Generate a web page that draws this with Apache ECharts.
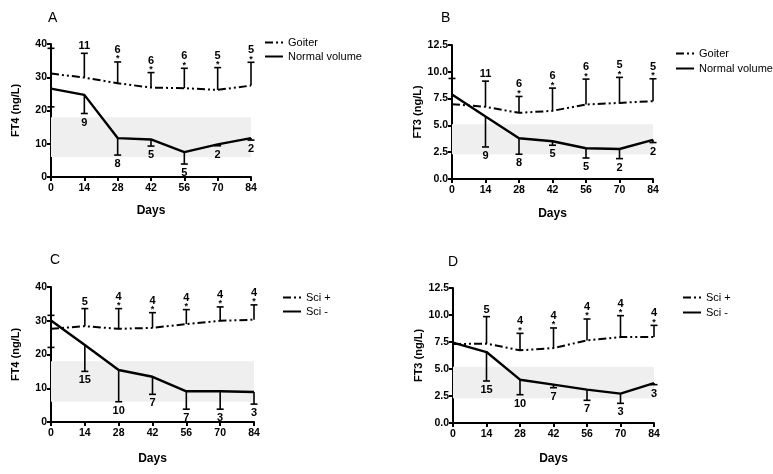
<!DOCTYPE html>
<html>
<head>
<meta charset="utf-8">
<script src="https://cdn.jsdelivr.net/npm/echarts@6/dist/echarts.min.js"></script>
<style>html,body{margin:0;padding:0;background:#fff}#c{width:773px;height:474px}</style>
</head>
<body>
<div id="c"></div>
<script>
// ---- data ----
const days = [0, 14, 28, 42, 56, 70, 84];
const xTicks = [0, 14, 28, 42, 56, 70, 84];

// Panel A: FT4, goiter vs normal volume
const goiterFT4 = [31.1, 29.9, 28.2, 26.9, 26.7, 26.2, 27.5];
const goiterFT4Err = [38.7, 37.2, 34.6, 31.4, 32.7, 32.9, 34.5];
const normalFT4 = [26.6, 24.7, 11.7, 11.3, 7.5, 9.8, 11.7];
const normalFT4Err = [21.1, 19.1, 6.6, 9.3, 3.9, 9.4, 11.1];

// Panel B: FT3, goiter vs normal volume
const goiterFT3 = [6.98, 6.73, 6.17, 6.36, 6.95, 7.1, 7.26];
const goiterFT3Err = [9.38, 9.13, 7.7, 8.48, 9.32, 9.48, 9.35];
const normalFT3 = [7.89, 5.83, 3.8, 3.52, 2.87, 2.8, 3.65];
const normalFT3Err = [null, 2.99, 2.31, 3.15, 1.96, 1.9, 3.4];

const goiterN = ['', '11', '6', '6', '6', '5', '5'];
const goiterStar = [false, false, true, true, true, true, true];
const normalN = ['', '9', '8', '5', '5', '2', '2'];

// Panel C: FT4, Sci + vs Sci -
const sciPosFT4 = [27.6, 28.4, 27.6, 27.9, 29.0, 30.0, 30.3];
const sciPosFT4Err = [31.6, 33.6, 33.6, 32.4, 33.3, 34.1, 34.7];
const sciNegFT4 = [30.1, 22.8, 15.4, 13.4, 9.1, 9.1, 8.9];
const sciNegFT4Err = [22.1, 15.0, 6.0, 8.2, 3.8, 3.8, 5.3];

// Panel D: FT3, Sci + vs Sci -
const sciPosFT3 = [7.31, 7.35, 6.73, 6.94, 7.65, 7.96, 7.96];
const sciPosFT3Err = [null, 9.85, 8.3, 8.8, 9.63, 9.94, 9.04];
const sciNegFT3 = [7.44, 6.57, 4.01, 3.55, 3.09, 2.72, 3.7];
const sciNegFT3Err = [null, 3.89, 2.62, 3.27, 2.1, 1.82, 3.55];

const sciPosN = ['', '5', '4', '4', '4', '4', '4'];
const sciPosStar = [false, false, true, true, true, true, true];
const sciNegN = ['', '15', '10', '7', '7', '3', '3'];
const noStar = [false, false, false, false, false, false, false];

// reference ranges
const ft4Range = [6, 18];
const ft3RangeB = [2.3, 5.1];
const ft3RangeD = [2.3, 5.2];

const panelLetters = ['A', 'B', 'C', 'D'];
const yTitles = ['FT4 (ng/L)', 'FT3 (ng/L)', 'FT4 (ng/L)', 'FT3 (ng/L)'];
const xTitle = 'Days';
const legendNames = [['Goiter', 'Normal volume'], ['Goiter', 'Normal volume'], ['Sci +', 'Sci -'], ['Sci +', 'Sci -']];

// ---- layout ----
const grids = [
  {left: 51, top: 44, width: 200, height: 133},
  {left: 452, top: 45, width: 201, height: 134},
  {left: 51, top: 287, width: 203, height: 135},
  {left: 453, top: 288, width: 201, height: 135}
];
const yScales = [
  {max: 40, interval: 10, fmt: v => String(v)},
  {max: 12.5, interval: 2.5, fmt: v => v.toFixed(1)},
  {max: 40, interval: 10, fmt: v => String(v)},
  {max: 12.5, interval: 2.5, fmt: v => v.toFixed(1)}
];
const yNameGaps = [30, 28, 30, 28];
const xNameGaps = [28, 29, 31, 30];
const legendPos = [
  {left: 264, top: 37, gap: 3},
  {left: 675, top: 48, gap: 4},
  {left: 282, top: 292, gap: 3},
  {left: 682, top: 292, gap: 4}
];
const letterPos = [{left: 43, top: 6}, {left: 436, top: 6}, {left: 45, top: 248}, {left: 443, top: 250}];

const FONT = 'Liberation Sans, Arial, Helvetica, sans-serif';
const dashDotDot = [8, 3, 2, 3, 2, 3];

function errSeries(idx, means, ends, labels, stars, dir) {
  const data = [];
  days.forEach((d, i) => { if (ends[i] != null) data.push([d, means[i], ends[i], i]); });
  return {
    type: 'custom', xAxisIndex: idx, yAxisIndex: idx, silent: true, z: 3,
    data: data,
    encode: {x: 0, y: [1, 2]},
    renderItem: function (params, api) {
      const x = api.value(0);
      const i = api.value(3);
      const p0 = api.coord([x, api.value(1)]);
      const p1 = api.coord([x, api.value(2)]);
      const cw = 3.5;
      const ch = [
        {type: 'line', shape: {x1: p0[0], y1: p0[1], x2: p1[0], y2: p1[1]}, style: {stroke: '#000', lineWidth: 1.6}},
        {type: 'line', shape: {x1: p1[0] - cw, y1: p1[1], x2: p1[0] + cw, y2: p1[1]}, style: {stroke: '#000', lineWidth: 1.6}}
      ];
      const lab = labels[i];
      if (dir > 0) {
        let off = 7;
        if (stars[i]) {
          ch.push({type: 'text', x: p1[0], y: p1[1] - 3, style: {text: '*', fill: '#000', font: 'bold 9px ' + FONT, align: 'center', verticalAlign: 'middle'}});
          off = 12;
        }
        if (lab) ch.push({type: 'text', x: p1[0], y: p1[1] - off, style: {text: lab, fill: '#000', font: 'bold 11px ' + FONT, align: 'center', verticalAlign: 'middle'}});
      } else {
        if (lab) ch.push({type: 'text', x: p1[0], y: p1[1] + 9, style: {text: lab, fill: '#000', font: 'bold 11px ' + FONT, align: 'center', verticalAlign: 'middle'}});
      }
      return {type: 'group', children: ch};
    }
  };
}

function lineSeries(idx, name, vals, dashed) {
  return {
    type: 'line', name: name, xAxisIndex: idx, yAxisIndex: idx, z: 4,
    data: days.map((d, i) => [d, vals[i]]),
    symbol: 'none', silent: true,
    lineStyle: {color: '#000', width: dashed ? 2 : 2.4, type: dashed ? dashDotDot : 'solid'},
    itemStyle: {color: '#000'}
  };
}

function bandSeries(idx, range) {
  return {
    type: 'line', xAxisIndex: idx, yAxisIndex: idx, data: [], silent: true, z: 1,
    markArea: {silent: true, itemStyle: {color: '#efefef'}, data: [[{xAxis: 0, yAxis: range[0]}, {xAxis: 85.5, yAxis: range[1]}]]}
  };
}

const series = [];
const panelData = [
  {up: [goiterFT4, goiterFT4Err, goiterN, goiterStar], down: [normalFT4, normalFT4Err, normalN, noStar], band: ft4Range},
  {up: [goiterFT3, goiterFT3Err, goiterN, goiterStar], down: [normalFT3, normalFT3Err, normalN, noStar], band: ft3RangeB},
  {up: [sciPosFT4, sciPosFT4Err, sciPosN, sciPosStar], down: [sciNegFT4, sciNegFT4Err, sciNegN, noStar], band: ft4Range},
  {up: [sciPosFT3, sciPosFT3Err, sciPosN, sciPosStar], down: [sciNegFT3, sciNegFT3Err, sciNegN, noStar], band: ft3RangeD}
];
panelData.forEach((p, k) => {
  series.push(bandSeries(k, p.band));
  series.push(errSeries(k, p.up[0], p.up[1], p.up[2], p.up[3], 1));
  series.push(errSeries(k, p.down[0], p.down[1], p.down[2], p.down[3], -1));
  series.push(lineSeries(k, legendNames[k][0], p.up[0], true));
  series.push(lineSeries(k, legendNames[k][1], p.down[0], false));
});

const axisCommon = {
  axisLine: {show: true, onZero: false, lineStyle: {color: '#000', width: 2}},
  axisTick: {show: true, length: 4, lineStyle: {color: '#000', width: 2}},
  splitLine: {show: false}
};

const option = {
  backgroundColor: '#fff',
  animation: false,
  title: panelLetters.map((t, k) => ({text: t, left: letterPos[k].left, top: letterPos[k].top, textStyle: {fontFamily: FONT, fontSize: 14, fontWeight: 'normal', color: '#000'}})),
  grid: grids.map(g => Object.assign({containLabel: false}, g)),
  xAxis: grids.map((g, k) => Object.assign({}, axisCommon, {
    type: 'value', gridIndex: k, min: 0, max: 84, interval: 14,
    name: xTitle, nameLocation: 'middle', nameGap: xNameGaps[k],
    nameTextStyle: {fontFamily: FONT, fontSize: 12, fontWeight: 'bold', color: '#000'},
    axisLabel: {fontFamily: FONT, fontSize: 10.5, fontWeight: 'bold', color: '#000', margin: 6, formatter: v => String(v)}
  })),
  yAxis: grids.map((g, k) => Object.assign({}, axisCommon, {
    type: 'value', gridIndex: k, min: 0, max: yScales[k].max, interval: yScales[k].interval,
    name: yTitles[k], nameLocation: 'middle', nameGap: yNameGaps[k],
    nameTextStyle: {fontFamily: FONT, fontSize: 11, fontWeight: 'bold', color: '#000'},
    axisLabel: {fontFamily: FONT, fontSize: 10.5, fontWeight: 'bold', color: '#000', margin: 4, formatter: yScales[k].fmt}
  })),
  legend: legendNames.map((names, k) => ({
    data: names, orient: 'vertical', left: legendPos[k].left, top: legendPos[k].top,
    itemWidth: 18, itemHeight: 12, itemGap: legendPos[k].gap, selectedMode: false,
    itemStyle: {opacity: 0},
    textStyle: {fontFamily: FONT, fontSize: 11, color: '#000'},
    padding: 0
  })),
  series: series
};

const chart = echarts.init(document.getElementById('c'), null, {renderer: 'canvas'});
chart.setOption(option);
</script>
</body>
</html>
